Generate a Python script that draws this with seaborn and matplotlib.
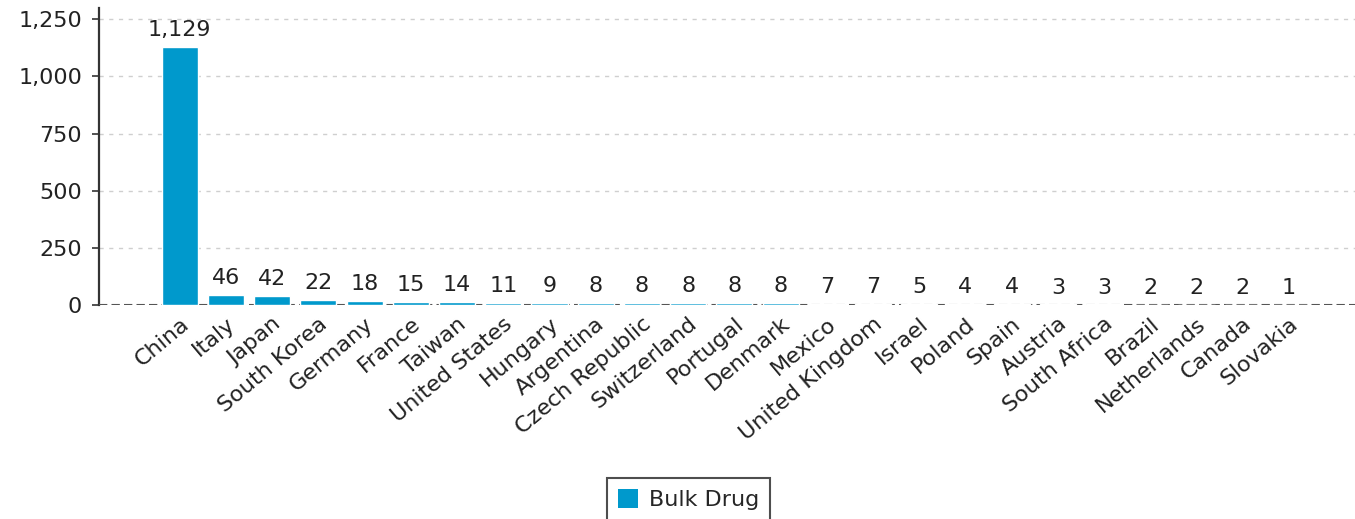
import matplotlib
matplotlib.use("Agg")
import matplotlib.pyplot as plt
import seaborn as sns
import pandas as pd
from matplotlib.patches import Patch
from matplotlib.ticker import FuncFormatter

# data
countries = ["China", "Italy", "Japan", "South Korea", "Germany", "France", "Taiwan",
             "United States", "Hungary", "Argentina", "Czech Republic", "Switzerland",
             "Portugal", "Denmark", "Mexico", "United Kingdom", "Israel", "Poland",
             "Spain", "Austria", "South Africa", "Brazil", "Netherlands", "Canada",
             "Slovakia"]
counts = [1129, 46, 42, 22, 18, 15, 14, 11, 9, 8, 8, 8, 8, 8, 7, 7, 5, 4, 4, 3, 3, 2, 2, 2, 1]
series_name = "Bulk Drug"

BAR_COLOR = "#0099cc"
TEXT_COLOR = "#222222"
FS = 16

df = pd.DataFrame({"Country": countries, "Count": counts})

sns.set_theme(style="white")
plt.rcParams["font.family"] = ["DejaVu Sans"]

fig = plt.figure(figsize=(13.55, 5.19), dpi=100)
ax = fig.add_axes([0.073, 0.412, 0.927, 0.573])

sns.barplot(data=df, x="Country", y="Count", color=BAR_COLOR, width=0.78,
            saturation=1, ax=ax, zorder=5)

ax.set_ylim(0, 1300)
ax.set_xlim(-1.75, 25.43)
ax.set_yticks([0, 250, 500, 750, 1000, 1250])
ax.yaxis.set_major_formatter(FuncFormatter(lambda v, p: f"{int(v):,}"))

# dashed gridlines
for v in [250, 500, 750, 1000, 1250]:
    ax.axhline(v, color="#cfcfcf", linestyle=(0, (3, 4)), linewidth=1.0, zorder=1)
ax.axhline(0, color="#555555", linestyle=(0, (4, 2)), linewidth=1.5, zorder=4)

for s in ["top", "right", "bottom"]:
    ax.spines[s].set_visible(False)
ax.spines["left"].set_color("#333333")
ax.spines["left"].set_linewidth(1.6)

ax.tick_params(axis="y", length=5, width=1.2, color="#333333", labelsize=FS,
               labelcolor=TEXT_COLOR, pad=7, left=True)
ax.tick_params(axis="x", length=0, labelsize=FS, labelcolor=TEXT_COLOR, pad=6)
plt.setp(ax.get_xticklabels(), rotation=40, ha="right", rotation_mode="anchor")

ax.set_xlabel("")
ax.set_ylabel("")

for i, c in enumerate(counts):
    ax.text(i, c + 30, f"{c:,}", ha="center", va="bottom", fontsize=FS, color=TEXT_COLOR)

handle = Patch(facecolor=BAR_COLOR, edgecolor="none", label=series_name)
leg = fig.legend(handles=[handle], loc="upper center", bbox_to_anchor=(0.508, 0.10),
                 frameon=True, fontsize=FS, handlelength=0.9, handleheight=0.9,
                 handletextpad=0.5, borderpad=0.5, fancybox=False)
leg.get_frame().set_edgecolor("#222222")
leg.get_frame().set_linewidth(1.5)

fig.savefig("out.png", dpi=100)
